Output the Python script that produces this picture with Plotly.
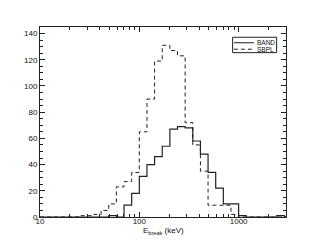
import numpy as np
import plotly.graph_objects as go

# Histogram bins: log-spaced, 13 bins per decade, bin index k covers [10^(k/13), 10^((k+1)/13)]
bin_index = list(range(13, 46))  # from 10 keV to ~3000 keV

# BAND counts per bin index
band_k = [22, 24, 25, 26, 27, 28, 29, 30, 31, 32, 33, 34, 35, 36, 37, 38, 39, 44]
band_counts = [1, 9, 18, 31, 40, 46, 54, 67, 69, 68, 58, 48, 34, 22, 10, 10, 1, 1]

# SBPL counts per bin index
sbpl_k = [18, 19, 20, 21, 22, 23, 24, 25, 26, 27, 28, 29, 30, 31, 32, 33, 34, 35, 36, 37, 38]
sbpl_counts = [1, 1, 2, 5, 10, 23, 27, 34, 65, 90, 119, 131, 127, 123, 72, 55, 35, 9, 9, 9, 2]

series_names = ["BAND", "SBPL"]
x_title = "E<sub>break</sub> (keV)"

x_tickvals = [10, 100, 1000]
x_ticktext = ["10", "100", "1000"]
x_minor = [20, 30, 40, 50, 60, 70, 80, 90, 200, 300, 400, 500, 600, 700, 800, 900, 2000, 3000]


def step_xy(ks, counts):
    full = {k: 0 for k in bin_index}
    for k, c in zip(ks, counts):
        full[k] = c
    edges = [10 ** (k / 13) for k in bin_index] + [10 ** ((bin_index[-1] + 1) / 13)]
    ys = [full[k] for k in bin_index]
    ys = ys + [ys[-1]]
    return edges, ys


bx, by = step_xy(band_k, band_counts)
sx, sy = step_xy(sbpl_k, sbpl_counts)

line_col = "#222222"
styles = [dict(color=line_col, width=1.2), dict(color=line_col, width=1, dash="4px,3px")]

fig = go.Figure()
fig.add_trace(go.Scatter(x=bx, y=by, mode="lines", line_shape="hv", name=series_names[0],
                         line=styles[0]))
fig.add_trace(go.Scatter(x=sx, y=sy, mode="lines", line_shape="hv", name=series_names[1],
                         line=styles[1]))

fam = "Liberation Sans, Arial, sans-serif"
font = dict(family=fam, size=8, color="#111111")

# compact legend box drawn in paper coordinates
leg_x0, leg_x1, leg_y0, leg_y1 = 0.783, 0.962, 0.865, 0.946
leg_rows = [0.917, 0.883]
shapes = [dict(type="rect", xref="paper", yref="paper", x0=leg_x0, x1=leg_x1, y0=leg_y0, y1=leg_y1,
               line=dict(color=line_col, width=1), fillcolor="white", layer="above")]
annotations = []
for name, st, yy in zip(series_names, styles, leg_rows):
    shapes.append(dict(type="line", xref="paper", yref="paper", x0=0.788, x1=0.870, y0=yy, y1=yy,
                       line=dict(color=st["color"], width=1, dash=st.get("dash", "solid")),
                       layer="above"))
    annotations.append(dict(xref="paper", yref="paper", x=0.874, y=yy, text=name, showarrow=False,
                            xanchor="left", yanchor="middle",
                            font=dict(family=fam, size=6.5, color="#111111")))

# x-axis title placed just under the tick labels
annotations.append(dict(xref="paper", yref="paper", x=0.5, y=-0.072, text=x_title, showarrow=False,
                        xanchor="center", yanchor="middle", font=dict(family=fam, size=8,
                                                                      color="#111111")))

# page body has an 8px default margin, so the figure is sized to fit the 311x249 window
fig.update_layout(
    width=303, height=241,
    margin=dict(l=32, r=25, t=19, b=32),
    paper_bgcolor="white", plot_bgcolor="white",
    font=font,
    showlegend=False,
    shapes=shapes,
    annotations=annotations,
)

fig.update_xaxes(
    type="log", range=[1, np.log10(3000)],
    showline=True, linecolor=line_col, linewidth=1, mirror="ticks",
    ticks="inside", ticklen=5, tickcolor=line_col,
    tickvals=x_tickvals, ticktext=x_ticktext, ticklabelstandoff=-4,
    minor=dict(tickvals=x_minor, ticks="inside", ticklen=3, tickcolor=line_col),
    showgrid=False, zeroline=False,
)
fig.update_yaxes(
    range=[0, 145],
    showline=True, linecolor=line_col, linewidth=1, mirror="ticks",
    ticks="inside", ticklen=5, tickcolor=line_col, dtick=20,
    minor=dict(dtick=5, ticks="inside", ticklen=3, tickcolor=line_col),
    showgrid=False, zeroline=False,
)

fig.write_html("out.html")
